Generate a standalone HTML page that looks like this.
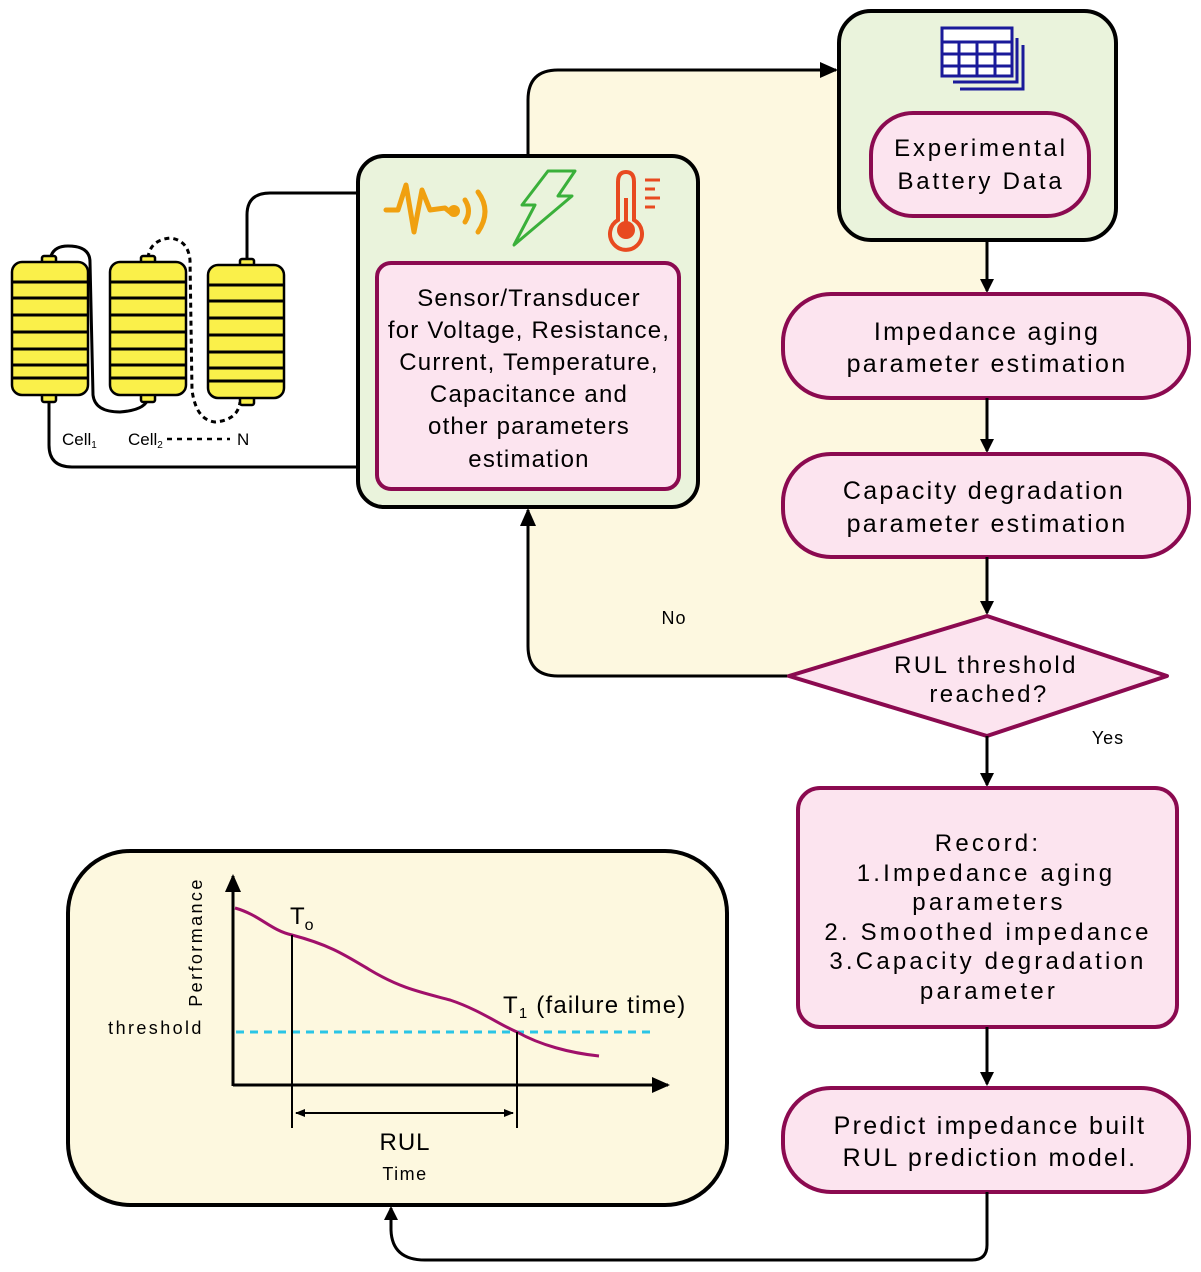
<!DOCTYPE html>
<html><head><meta charset="utf-8"><style>
html,body{margin:0;padding:0;background:#fff;}
svg{display:block;font-family:"Liberation Sans",sans-serif;}
.t{font-size:25px;letter-spacing:2.3px;}
.s{font-size:24px;letter-spacing:1.2px;}
.r{font-size:24px;letter-spacing:3.2px;}
.c{font-size:18px;letter-spacing:2.4px;}
</style></head><body>
<svg width="1201" height="1272" viewBox="0 0 1201 1272" xmlns="http://www.w3.org/2000/svg">
<defs>
<marker id="ah" markerWidth="14" markerHeight="14" refX="12" refY="7" orient="auto" markerUnits="userSpaceOnUse"><path d="M0,0 L14,7 L0,14 Z" fill="#000"/></marker>
<marker id="ah2" markerWidth="18" markerHeight="16" refX="16" refY="8" orient="auto" markerUnits="userSpaceOnUse"><path d="M0,0 L18,8 L0,16 Z" fill="#000"/></marker>
<marker id="sm" markerWidth="10" markerHeight="10" refX="9" refY="5" orient="auto-start-reverse" markerUnits="userSpaceOnUse"><path d="M0,1 L10,5 L0,9 Z" fill="#000"/></marker>
</defs>

<path d="M528,100 Q528,70 558,70 L987,70 L987,676 L558,676 Q528,676 528,646 Z" fill="#fdf8e0"/>
<path d="M528,155 L528,100 Q528,70 558,70 L836,70" fill="none" stroke="#000" stroke-width="3" marker-end="url(#ah2)"/>
<path d="M790,676 L558,676 Q528,676 528,646 L528,510" fill="none" stroke="#000" stroke-width="3" marker-end="url(#ah2)"/>
<text x="674" y="624" font-size="18" text-anchor="middle" letter-spacing="1">No</text>

<rect x="839" y="11" width="277" height="229" rx="32" fill="#eaf3dc" stroke="#000" stroke-width="4"/>
<g fill="none" stroke="#1a1a9a" stroke-width="3">
<rect x="942" y="28" width="70" height="48" fill="#fff"/>
<line x1="942" y1="42" x2="1012" y2="42"/><line x1="942" y1="54" x2="1012" y2="54"/><line x1="942" y1="66" x2="1012" y2="66"/>
<line x1="959" y1="42" x2="959" y2="76"/><line x1="977" y1="42" x2="977" y2="76"/><line x1="995" y1="42" x2="995" y2="76"/>
<path d="M1017,38 L1017,82 L953,82"/><path d="M1023,45 L1023,89 L960,89"/>
</g>
<rect x="871" y="113" width="218" height="103" rx="42" fill="#fce4ef" stroke="#8b0a50" stroke-width="4"/>
<text x="981" y="156" font-size="24" letter-spacing="2.8" text-anchor="middle">Experimental</text>
<text x="981" y="189" font-size="24" letter-spacing="2.8" text-anchor="middle">Battery Data</text>

<line x1="987" y1="240" x2="987" y2="291" stroke="#000" stroke-width="3" marker-end="url(#ah)"/>
<rect x="783" y="294" width="406" height="104" rx="48" fill="#fce4ef" stroke="#8b0a50" stroke-width="4"/>
<text x="987" y="340" class="t" text-anchor="middle">Impedance aging</text>
<text x="987" y="372" class="t" text-anchor="middle">parameter estimation</text>

<line x1="987" y1="398" x2="987" y2="451" stroke="#000" stroke-width="3" marker-end="url(#ah)"/>
<rect x="783" y="454" width="406" height="103" rx="48" fill="#fce4ef" stroke="#8b0a50" stroke-width="4"/>
<text x="984" y="499" class="t" text-anchor="middle">Capacity degradation</text>
<text x="987" y="532" class="t" text-anchor="middle">parameter estimation</text>

<line x1="987" y1="557" x2="987" y2="613" stroke="#000" stroke-width="3" marker-end="url(#ah)"/>
<path d="M789,676 L987,616 L1167,676 L987,736 Z" fill="#fce4ef" stroke="#8b0a50" stroke-width="4" stroke-linejoin="round"/>
<text x="986" y="673" font-size="24" letter-spacing="2.4" text-anchor="middle">RUL threshold</text>
<text x="989" y="702" font-size="24" letter-spacing="2.4" text-anchor="middle">reached?</text>
<text x="1108" y="744" font-size="18" letter-spacing="1" text-anchor="middle">Yes</text>

<line x1="987" y1="736" x2="987" y2="785" stroke="#000" stroke-width="3" marker-end="url(#ah)"/>
<rect x="798" y="788" width="379" height="239" rx="22" fill="#fce4ef" stroke="#8b0a50" stroke-width="4"/>
<g class="r" text-anchor="middle">
<text x="988" y="851">Record:</text>
<text x="986" y="881">1.Impedance aging</text>
<text x="989" y="910">parameters</text>
<text x="988" y="940">2. Smoothed impedance</text>
<text x="988" y="969">3.Capacity degradation</text>
<text x="989" y="999">parameter</text>
</g>

<line x1="987" y1="1027" x2="987" y2="1084" stroke="#000" stroke-width="3" marker-end="url(#ah)"/>
<rect x="783" y="1088" width="406" height="104" rx="48" fill="#fce4ef" stroke="#8b0a50" stroke-width="4"/>
<text x="990" y="1134" class="t" text-anchor="middle">Predict impedance built</text>
<text x="990" y="1166" class="t" text-anchor="middle">RUL prediction model.</text>

<path d="M987,1192 L987,1245 Q987,1260 972,1260 L425,1260 Q392,1260 391,1230 L391,1208" fill="none" stroke="#000" stroke-width="3" marker-end="url(#ah)"/>

<rect x="68" y="851" width="659" height="354" rx="62" fill="#fdf8df" stroke="#000" stroke-width="4"/>
<line x1="233" y1="1086" x2="233" y2="876" stroke="#000" stroke-width="3" marker-end="url(#ah2)"/>
<line x1="233" y1="1085" x2="668" y2="1085" stroke="#000" stroke-width="3" marker-end="url(#ah2)"/>
<line x1="236" y1="1032" x2="652" y2="1032" stroke="#29c5e6" stroke-width="3" stroke-dasharray="8,6"/>
<path d="M235,908 C260,915 270,930 292,935 C330,945 345,955 370,970 C400,988 420,992 450,1000 C480,1010 500,1025 517,1032 C540,1045 570,1053 599,1056" fill="none" stroke="#a0106a" stroke-width="3"/>
<line x1="292" y1="935" x2="292" y2="1128" stroke="#000" stroke-width="2"/>
<line x1="517" y1="1032" x2="517" y2="1128" stroke="#000" stroke-width="2"/>
<line x1="296" y1="1113" x2="513" y2="1113" stroke="#000" stroke-width="2" marker-start="url(#sm)" marker-end="url(#sm)"/>
<text transform="translate(202,942) rotate(-90)" class="c" text-anchor="middle">Performance</text>
<text x="156" y="1034" class="c" text-anchor="middle">threshold</text>
<text x="290" y="924" font-size="24">T<tspan font-size="16" dy="6">o</tspan></text>
<text x="503" y="1013" font-size="24" letter-spacing="1.2">T<tspan font-size="15" dy="5">1</tspan><tspan dy="-5"> (failure time)</tspan></text>
<text x="405" y="1150" font-size="24" letter-spacing="1" text-anchor="middle">RUL</text>
<text x="405" y="1180" font-size="18" letter-spacing="1.5" text-anchor="middle">Time</text>

<rect x="358" y="156" width="340" height="351" rx="26" fill="#eaf3dc" stroke="#000" stroke-width="4"/>
<path d="M386,210 L398,210 L406,185 L414,232 L422,190 L430,210 L445,208 L450,212" fill="none" stroke="#f0a010" stroke-width="5" stroke-linejoin="round" stroke-linecap="round"/>
<circle cx="454" cy="211" r="6" fill="#f0a010"/>
<path d="M465,200 Q472,211 465,222" fill="none" stroke="#f0a010" stroke-width="5" stroke-linecap="round"/>
<path d="M478,192 Q492,211 478,232" fill="none" stroke="#f0a010" stroke-width="5" stroke-linecap="round"/>
<path d="M548,171 L575,171 L558,196 L572,196 L514,245 L535,205 L522,205 Z" fill="none" stroke="#3ab03a" stroke-width="3" stroke-linejoin="round"/>
<path d="M618,220 L618,182 Q618,172 626,172 Q634,172 634,182 L634,220 A16,16 0 1 1 618,220 Z" fill="none" stroke="#e84a20" stroke-width="4"/>
<circle cx="626" cy="230" r="9" fill="#e84a20"/>
<line x1="626" y1="198" x2="626" y2="225" stroke="#e84a20" stroke-width="4"/>
<g stroke="#e84a20" stroke-width="3"><line x1="645" y1="180" x2="660" y2="180"/><line x1="645" y1="189" x2="655" y2="189"/><line x1="645" y1="198" x2="660" y2="198"/><line x1="645" y1="207" x2="655" y2="207"/></g>
<rect x="377" y="263" width="302" height="226" rx="14" fill="#fce4ef" stroke="#8b0a50" stroke-width="4"/>
<g class="s" text-anchor="middle">
<text x="529" y="306">Sensor/Transducer</text>
<text x="529" y="338">for Voltage, Resistance,</text>
<text x="529" y="370">Current, Temperature,</text>
<text x="529" y="402">Capacitance and</text>
<text x="529" y="434">other parameters</text>
<text x="529" y="467">estimation</text>
</g>

<path d="M357,193 L270,193 Q247,193 247,215 L247,263" fill="none" stroke="#000" stroke-width="3"/>
<path d="M49,398 L49,445 Q49,467 72,467 L357,467" fill="none" stroke="#000" stroke-width="3"/>
<path d="M50,260 Q52,246 68,246 Q90,246 90,262 L93,395 Q95,412 120,412 Q146,410 148,398" fill="none" stroke="#000" stroke-width="3"/>
<path d="M148,258 Q150,240 170,238 Q188,240 190,260 L192,390 Q196,420 215,422 Q238,420 240,402" fill="none" stroke="#000" stroke-width="3" stroke-dasharray="5,4"/>

<g stroke="#000" stroke-width="2.5" fill="#faf04a">
<rect x="42" y="256" width="14" height="8" rx="2"/><rect x="42" y="394" width="14" height="8" rx="2"/>
<rect x="12" y="262" width="76" height="133" rx="10"/>
<rect x="141" y="256" width="14" height="8" rx="2"/><rect x="141" y="394" width="14" height="8" rx="2"/>
<rect x="110" y="262" width="76" height="133" rx="10"/>
<rect x="240" y="259" width="14" height="8" rx="2"/><rect x="240" y="397" width="14" height="8" rx="2"/>
<rect x="208" y="265" width="76" height="133" rx="10"/>
</g>
<g stroke="#000" stroke-width="3">
<line x1="12" y1="282" x2="88" y2="282"/><line x1="12" y1="298" x2="88" y2="298"/><line x1="12" y1="315" x2="88" y2="315"/><line x1="12" y1="332" x2="88" y2="332"/><line x1="12" y1="349" x2="88" y2="349"/><line x1="12" y1="365" x2="88" y2="365"/><line x1="12" y1="378" x2="88" y2="378"/>
<line x1="110" y1="282" x2="186" y2="282"/><line x1="110" y1="298" x2="186" y2="298"/><line x1="110" y1="315" x2="186" y2="315"/><line x1="110" y1="332" x2="186" y2="332"/><line x1="110" y1="349" x2="186" y2="349"/><line x1="110" y1="365" x2="186" y2="365"/><line x1="110" y1="378" x2="186" y2="378"/>
<line x1="208" y1="285" x2="284" y2="285"/><line x1="208" y1="301" x2="284" y2="301"/><line x1="208" y1="318" x2="284" y2="318"/><line x1="208" y1="335" x2="284" y2="335"/><line x1="208" y1="352" x2="284" y2="352"/><line x1="208" y1="368" x2="284" y2="368"/><line x1="208" y1="381" x2="284" y2="381"/>
</g>
<text x="62" y="445" font-size="17">Cell<tspan font-size="10" dy="3">1</tspan></text>
<text x="128" y="445" font-size="17">Cell<tspan font-size="10" dy="3">2</tspan></text>
<line x1="167" y1="439" x2="230" y2="439" stroke="#000" stroke-width="2.5" stroke-dasharray="5,5"/>
<text x="237" y="445" font-size="17">N</text>
</svg>
</body></html>
